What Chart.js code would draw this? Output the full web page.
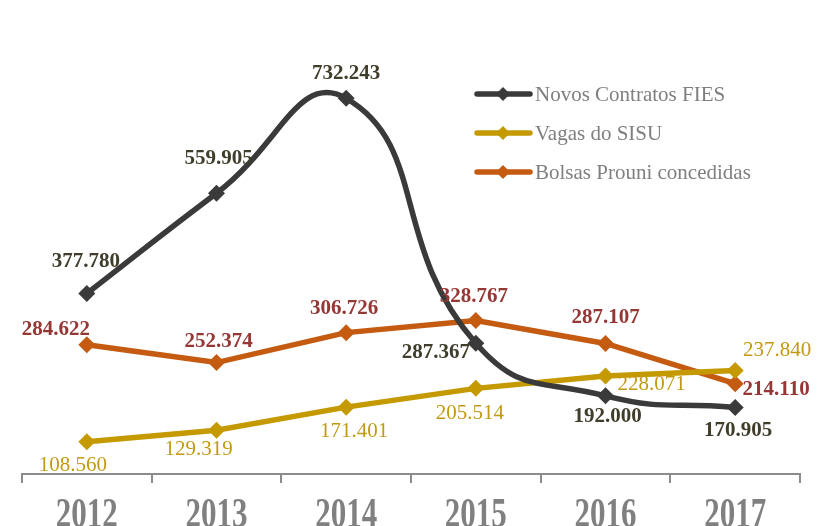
<!DOCTYPE html>
<html>
<head>
<meta charset="utf-8">
<script src="https://cdn.jsdelivr.net/npm/chart.js@4.4.1/dist/chart.umd.min.js"></script>
<style>
  html, body { margin: 0; padding: 0; background: #fff; }
  #wrap { width: 836px; height: 526px; position: relative; }
</style>
</head>
<body>
<div id="wrap"><canvas id="grafico" width="836" height="526"></canvas></div>
<script>
// dati
var anni = ['2012', '2013', '2014', '2015', '2016', '2017'];
var fies = [377780, 559905, 732243, 287367, 192000, 170905];
var sisu = [108560, 129319, 171401, 205514, 228071, 237840];
var prouni = [284622, 252374, 306726, 328767, 287107, 214110];

var nomeFies = 'Novos Contratos FIES';
var nomeSisu = 'Vagas do SISU';
var nomeProuni = 'Bolsas Prouni concedidas';

var coloreFies = '#3a3a3a';
var coloreSisu = '#c59a00';
var coloreProuni = '#c55a11';

// spostamenti delle etichette (dx, dy) rispetto al punto
var posFies = [[-1, -32], [2, -35], [0, -25], [-40, 9], [2, 21], [3, 23]];
var posSisu = [[-14, 24], [-18, 19], [8, 24], [-6, 25], [46, 9], [42, -20]];
var posProuni = [[-31, -15], [2, -21], [-2, -24], [-2, -24], [0, -26], [41, 6]];

function formatta(v) {
  return (v / 1000).toFixed(3);
}

var etichette = {
  id: 'etichette',
  afterDatasetsDraw: function (chart) {
    var ctx = chart.ctx;
    var stili = [
      { pos: posFies, font: 'bold 21px "Liberation Serif"', colore: '#403d2b' },
      { pos: posSisu, font: '21px "Liberation Serif"', colore: '#c19a12' },
      { pos: posProuni, font: 'bold 21px "Liberation Serif"', colore: '#953735' }
    ];
    ctx.save();
    ctx.textAlign = 'center';
    ctx.textBaseline = 'middle';
    chart.data.datasets.forEach(function (ds, i) {
      var meta = chart.getDatasetMeta(i);
      var s = stili[i];
      ctx.font = s.font;
      ctx.fillStyle = s.colore;
      meta.data.forEach(function (pt, j) {
        ctx.fillText(formatta(ds.data[j]), pt.x + s.pos[j][0], pt.y + s.pos[j][1]);
      });
    });
    ctx.restore();
  }
};

// anni sotto l'asse, un po' allungati in verticale come nell'originale
var anniAsse = {
  id: 'anniAsse',
  afterDraw: function (chart) {
    var ctx = chart.ctx;
    var scala = chart.scales.x;
    ctx.save();
    ctx.font = 'bold 31px "Liberation Serif"';
    ctx.fillStyle = '#808080';
    ctx.textAlign = 'center';
    ctx.textBaseline = 'alphabetic';
    chart.data.labels.forEach(function (anno, i) {
      ctx.save();
      ctx.translate(scala.getPixelForTick(i), 527);
      ctx.scale(1, 1.35);
      ctx.fillText(anno, 0, 0);
      ctx.restore();
    });
    ctx.restore();
  }
};

var legenda = {
  id: 'legenda',
  afterDraw: function (chart) {
    var ctx = chart.ctx;
    var voci = chart.data.datasets;
    ctx.save();
    voci.forEach(function (ds, i) {
      var y = 94 + i * 39;
      ctx.strokeStyle = ds.borderColor;
      ctx.lineWidth = 5.5;
      ctx.lineCap = 'round';
      ctx.beginPath();
      ctx.moveTo(477, y);
      ctx.lineTo(530, y);
      ctx.stroke();
      ctx.fillStyle = ds.borderColor;
      ctx.beginPath();
      ctx.moveTo(503, y - 7);
      ctx.lineTo(510, y);
      ctx.lineTo(503, y + 7);
      ctx.lineTo(496, y);
      ctx.closePath();
      ctx.fill();
      ctx.font = '21px "Liberation Serif"';
      ctx.fillStyle = '#7f7f7f';
      ctx.textAlign = 'left';
      ctx.textBaseline = 'middle';
      ctx.fillText(ds.label, 535, y + 1);
    });
    ctx.restore();
  }
};

var canvas = document.getElementById('grafico');

var grafico = new Chart(canvas, {
  type: 'line',
  data: {
    labels: anni,
    datasets: [
      {
        label: nomeFies,
        data: fies,
        borderColor: coloreFies,
        backgroundColor: coloreFies,
        borderWidth: 5.5,
        tension: 0.5,
        pointStyle: 'rectRot',
        pointRadius: 8.5,
        pointBorderWidth: 0
      },
      {
        label: nomeSisu,
        data: sisu,
        borderColor: coloreSisu,
        backgroundColor: coloreSisu,
        borderWidth: 5.5,
        tension: 0,
        pointStyle: 'rectRot',
        pointRadius: 8.5,
        pointBorderWidth: 0
      },
      {
        label: nomeProuni,
        data: prouni,
        borderColor: coloreProuni,
        backgroundColor: coloreProuni,
        borderWidth: 5.5,
        tension: 0,
        pointStyle: 'rectRot',
        pointRadius: 8.5,
        pointBorderWidth: 0
      }
    ]
  },
  options: {
    responsive: false,
    animation: false,
    clip: false,
    layout: { padding: { left: 22, right: 36, top: 61, bottom: 0 } },
    plugins: {
      legend: { display: false },
      tooltip: { enabled: false }
    },
    scales: {
      x: {
        offset: true,
        afterFit: function (scale) {
          // altezza fissa dell'asse, come nel grafico originale
          scale.height = 52;
        },
        grid: {
          offset: true,
          drawOnChartArea: false,
          drawTicks: true,
          tickLength: 9,
          color: '#8c8c8c',
          lineWidth: 2
        },
        border: { display: true, color: '#8c8c8c', width: 2 },
        ticks: {
          display: false
        }
      },
      y: {
        display: false,
        min: 50000,
        max: 800000
      }
    }
  },
  plugins: [etichette, anniAsse, legenda]
});
</script>
</body>
</html>
